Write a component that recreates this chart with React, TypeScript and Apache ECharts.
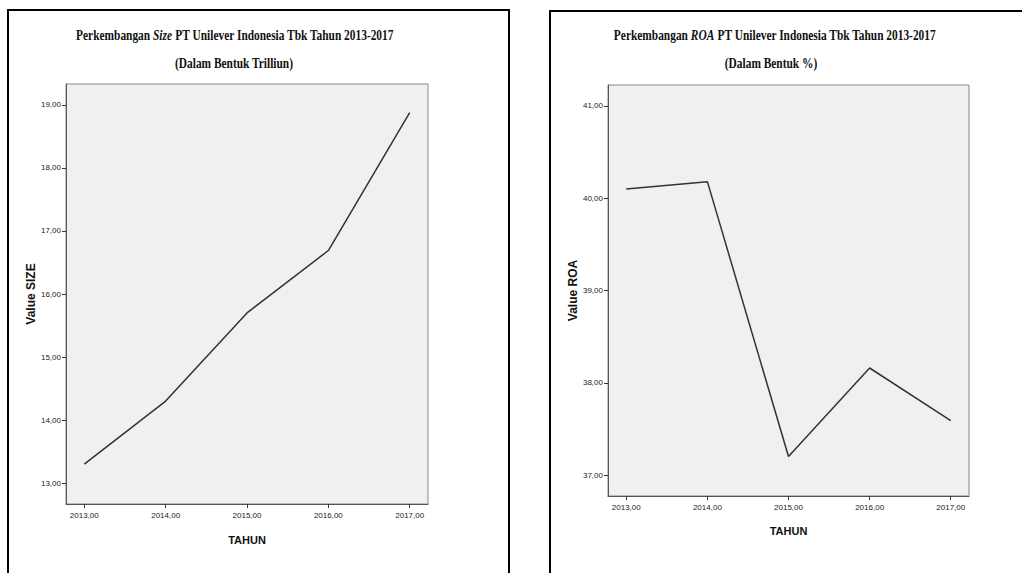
import React, { useEffect, useRef } from "react";
import * as echarts from "echarts";

const years = [2013, 2014, 2015, 2016, 2017];
const sizeValues = [13.3, 14.3, 15.7, 16.69, 18.88];
const roaValues = [40.1, 40.18, 37.2, 38.16, 37.59];
const sizeTicks = [13, 14, 15, 16, 17, 18, 19];
const roaTicks = [37, 38, 39, 40, 41];

const fmt = (v: number) => v.toFixed(2).replace(".", ",");

export default function App() {
  const ref = useRef<HTMLDivElement>(null);
  useEffect(() => {
    if (!ref.current) return;
    const chart = echarts.init(ref.current, undefined, { renderer: "svg" });
    const titleStyle = (x: number, y: number, text: string) => ({
      type: "text",
      x,
      y,
      scaleX: 0.76,
      style: {
        text,
        align: "center",
        verticalAlign: "middle",
        fontFamily: "Liberation Serif",
        fontWeight: "bold",
        fontSize: 15,
        fill: "#111",
        rich: {
          b: { fontFamily: "Liberation Serif", fontWeight: "bold", fontSize: 15, fill: "#111" },
          i: { fontFamily: "Liberation Serif", fontWeight: "bold", fontStyle: "italic", fontSize: 15, fill: "#111" },
        },
      },
    });
    const xAxisCommon = (gridIndex: number, nameGap: number) => ({
      type: "value",
      gridIndex,
      min: 2012.775,
      max: 2017.225,
      name: "TAHUN",
      nameLocation: "middle",
      nameGap,
      nameTextStyle: { fontFamily: "Liberation Sans", fontWeight: "bold", fontSize: 11, color: "#111" },
      axisLine: { show: true, lineStyle: { color: "#555", width: 1 } },
      axisTick: { show: true, length: 4, customValues: years, lineStyle: { color: "#333" } },
      axisLabel: {
        customValues: years,
        formatter: (v: number) => fmt(v),
        fontFamily: "Liberation Sans",
        fontSize: 8,
        color: "#222",
        margin: 7,
      },
      splitLine: { show: false },
    });
    const yAxisCommon = (gridIndex: number, name: string, min: number, max: number, ticks: number[]) => ({
      type: "value",
      gridIndex,
      min,
      max,
      name,
      nameLocation: "middle",
      nameGap: 28,
      nameRotate: 90,
      nameTextStyle: { fontFamily: "Liberation Sans", fontWeight: "bold", fontSize: 12, color: "#111" },
      axisLine: { show: true, lineStyle: { color: "#555", width: 1 } },
      axisTick: { show: true, length: 4, customValues: ticks, lineStyle: { color: "#333" } },
      axisLabel: {
        customValues: ticks,
        formatter: (v: number) => fmt(v),
        fontFamily: "Liberation Sans",
        fontSize: 8,
        color: "#222",
        margin: 5,
      },
      splitLine: { show: false },
    });
    chart.setOption({
      animation: false,
      backgroundColor: "#fff",
      grid: [
        { left: 66, top: 84, width: 362, height: 420, show: true, backgroundColor: "#f0f0f0", borderColor: "#888", borderWidth: 1 },
        { left: 608, top: 85, width: 361, height: 411, show: true, backgroundColor: "#f0f0f0", borderColor: "#888", borderWidth: 1 },
      ],
      xAxis: [xAxisCommon(0, 30), xAxisCommon(1, 29)],
      yAxis: [
        yAxisCommon(0, "Value SIZE", 12.6667, 19.3333, sizeTicks),
        yAxisCommon(1, "Value ROA", 36.7727, 41.2273, roaTicks),
      ],
      series: [
        {
          type: "line",
          xAxisIndex: 0,
          yAxisIndex: 0,
          data: years.map((y, i) => [y, sizeValues[i]]),
          showSymbol: false,
          lineStyle: { color: "#333", width: 1.5 },
        },
        {
          type: "line",
          xAxisIndex: 1,
          yAxisIndex: 1,
          data: years.map((y, i) => [y, roaValues[i]]),
          showSymbol: false,
          lineStyle: { color: "#333", width: 1.5 },
        },
      ],
      graphic: [
        { type: "rect", shape: { x: 8, y: 10, width: 501, height: 600 }, style: { fill: "none", stroke: "#000", lineWidth: 2 } },
        { type: "rect", shape: { x: 550, y: 11, width: 520, height: 600 }, style: { fill: "none", stroke: "#000", lineWidth: 2 } },
        titleStyle(235, 35, "{b|Perkembangan }{i|Size}{b| PT Unilever Indonesia Tbk Tahun 2013-2017}"),
        titleStyle(234, 63, "{b|(Dalam Bentuk Trilliun)}"),
        titleStyle(775, 35, "{b|Perkembangan }{i|ROA}{b| PT Unilever Indonesia Tbk Tahun 2013-2017}"),
        titleStyle(771, 63, "{b|(Dalam Bentuk %)}"),
      ],
    });
    return () => chart.dispose();
  }, []);
  return (
    <div
      ref={ref}
      style={{ position: "absolute", left: 0, top: 0, width: 1022, height: 573 }}
    />
  );
}
